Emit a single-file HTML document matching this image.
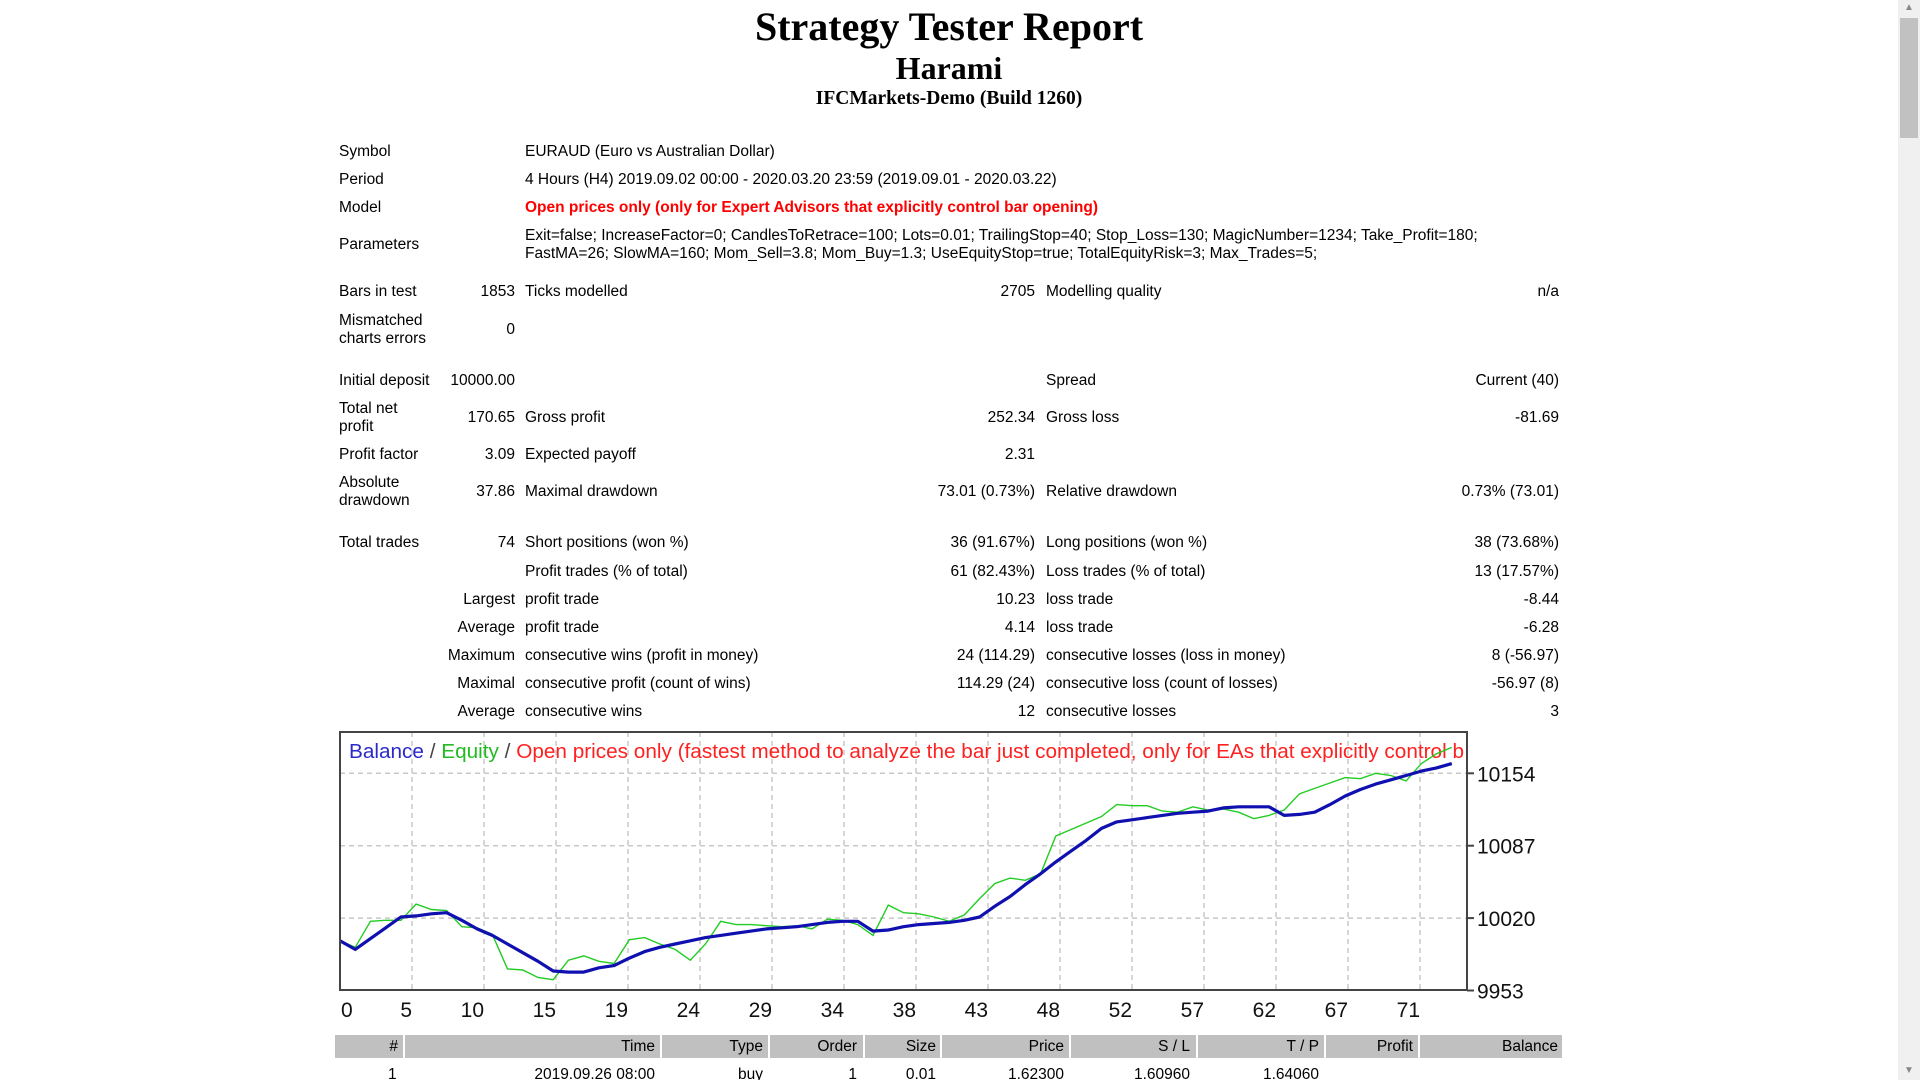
<!DOCTYPE html>
<html><head><meta charset="utf-8">
<style>
html,body{margin:0;padding:0;background:#fff;width:1920px;height:1080px;overflow:hidden;}
body{position:relative;font-family:"Liberation Sans","DejaVu Sans",sans-serif;font-size:15.5px;color:#000;}
.t{position:absolute;white-space:nowrap;line-height:18px;margin-top:1px;}
.r{text-align:right;}
.h1{position:absolute;left:0;width:1898px;text-align:center;font-family:"Liberation Serif",serif;font-weight:bold;white-space:nowrap;}
.hdr{position:absolute;top:1035px;height:23px;background:#c0c0c0;}
.hc{position:absolute;top:1037px;line-height:20px;white-space:nowrap;text-align:right;}
</style></head><body>
<div class="h1" style="top:4px;font-size:40px;line-height:46px;">Strategy Tester Report</div>
<div class="h1" style="top:49px;font-size:32px;line-height:38px;">Harami</div>
<div class="h1" style="top:87px;font-size:19.5px;line-height:24px;">IFCMarkets-Demo (Build 1260)</div>

<div class="t" style="left:339px;top:142px">Symbol</div>
<div class="t" style="left:525px;top:142px">EURAUD (Euro vs Australian Dollar)</div>
<div class="t" style="left:339px;top:170px">Period</div>
<div class="t" style="left:525px;top:170px">4 Hours (H4) 2019.09.02 00:00 - 2020.03.20 23:59 (2019.09.01 - 2020.03.22)</div>
<div class="t" style="left:339px;top:198px">Model</div>
<div class="t" style="left:525px;top:198px;color:#ff0000;font-weight:bold">Open prices only (only for Expert Advisors that explicitly control bar opening)</div>
<div class="t" style="left:339px;top:235px">Parameters</div>
<div class="t" style="left:525px;top:226px">Exit=false; IncreaseFactor=0; CandlesToRetrace=100; Lots=0.01; TrailingStop=40; Stop_Loss=130; MagicNumber=1234; Take_Profit=180;<br>FastMA=26; SlowMA=160; Mom_Sell=3.8; Mom_Buy=1.3; UseEquityStop=true; TotalEquityRisk=3; Max_Trades=5;</div>

<div class="t" style="left:339px;top:282px">Bars in test</div>
<div class="t r" style="right:1405px;top:282px">1853</div>
<div class="t" style="left:525px;top:282px">Ticks modelled</div>
<div class="t r" style="right:885px;top:282px">2705</div>
<div class="t" style="left:1046px;top:282px">Modelling quality</div>
<div class="t r" style="right:361px;top:282px">n/a</div>

<div class="t" style="left:339px;top:311px">Mismatched<br>charts errors</div>
<div class="t r" style="right:1405px;top:320px">0</div>

<div class="t" style="left:339px;top:371px">Initial deposit</div>
<div class="t r" style="right:1405px;top:371px">10000.00</div>
<div class="t" style="left:1046px;top:371px">Spread</div>
<div class="t r" style="right:361px;top:371px">Current (40)</div>

<div class="t" style="left:339px;top:399px">Total net<br>profit</div>
<div class="t r" style="right:1405px;top:408px">170.65</div>
<div class="t" style="left:525px;top:408px">Gross profit</div>
<div class="t r" style="right:885px;top:408px">252.34</div>
<div class="t" style="left:1046px;top:408px">Gross loss</div>
<div class="t r" style="right:361px;top:408px">-81.69</div>

<div class="t" style="left:339px;top:445px">Profit factor</div>
<div class="t r" style="right:1405px;top:445px">3.09</div>
<div class="t" style="left:525px;top:445px">Expected payoff</div>
<div class="t r" style="right:885px;top:445px">2.31</div>

<div class="t" style="left:339px;top:473px">Absolute<br>drawdown</div>
<div class="t r" style="right:1405px;top:482px">37.86</div>
<div class="t" style="left:525px;top:482px">Maximal drawdown</div>
<div class="t r" style="right:885px;top:482px">73.01 (0.73%)</div>
<div class="t" style="left:1046px;top:482px">Relative drawdown</div>
<div class="t r" style="right:361px;top:482px">0.73% (73.01)</div>

<div class="t" style="left:339px;top:533px">Total trades</div>
<div class="t r" style="right:1405px;top:533px">74</div>
<div class="t" style="left:525px;top:533px">Short positions (won %)</div>
<div class="t r" style="right:885px;top:533px">36 (91.67%)</div>
<div class="t" style="left:1046px;top:533px">Long positions (won %)</div>
<div class="t r" style="right:361px;top:533px">38 (73.68%)</div>

<div class="t" style="left:525px;top:562px">Profit trades (% of total)</div>
<div class="t r" style="right:885px;top:562px">61 (82.43%)</div>
<div class="t" style="left:1046px;top:562px">Loss trades (% of total)</div>
<div class="t r" style="right:361px;top:562px">13 (17.57%)</div>

<div class="t r" style="right:1405px;top:590px">Largest</div>
<div class="t" style="left:525px;top:590px">profit trade</div>
<div class="t r" style="right:885px;top:590px">10.23</div>
<div class="t" style="left:1046px;top:590px">loss trade</div>
<div class="t r" style="right:361px;top:590px">-8.44</div>

<div class="t r" style="right:1405px;top:618px">Average</div>
<div class="t" style="left:525px;top:618px">profit trade</div>
<div class="t r" style="right:885px;top:618px">4.14</div>
<div class="t" style="left:1046px;top:618px">loss trade</div>
<div class="t r" style="right:361px;top:618px">-6.28</div>

<div class="t r" style="right:1405px;top:646px">Maximum</div>
<div class="t" style="left:525px;top:646px">consecutive wins (profit in money)</div>
<div class="t r" style="right:885px;top:646px">24 (114.29)</div>
<div class="t" style="left:1046px;top:646px">consecutive losses (loss in money)</div>
<div class="t r" style="right:361px;top:646px">8 (-56.97)</div>

<div class="t r" style="right:1405px;top:674px">Maximal</div>
<div class="t" style="left:525px;top:674px">consecutive profit (count of wins)</div>
<div class="t r" style="right:885px;top:674px">114.29 (24)</div>
<div class="t" style="left:1046px;top:674px">consecutive loss (count of losses)</div>
<div class="t r" style="right:361px;top:674px">-56.97 (8)</div>

<div class="t r" style="right:1405px;top:702px">Average</div>
<div class="t" style="left:525px;top:702px">consecutive wins</div>
<div class="t r" style="right:885px;top:702px">12</div>
<div class="t" style="left:1046px;top:702px">consecutive losses</div>
<div class="t r" style="right:361px;top:702px">3</div>

<svg id="chart" style="position:absolute;left:0;top:0" width="1920" height="1080" xmlns="http://www.w3.org/2000/svg">
<defs><clipPath id="clip"><rect x="340" y="732" width="1127" height="258"/></clipPath></defs>
<g id="grid"></g>
<g clip-path="url(#clip)">
<text x="349" y="758" font-size="20" font-family="Liberation Sans, DejaVu Sans, sans-serif" textLength="1115" lengthAdjust="spacingAndGlyphs"><tspan fill="#2a2acc">Balance</tspan><tspan fill="#444"> / </tspan><tspan fill="#22bb22">Equity</tspan><tspan fill="#444"> / </tspan><tspan fill="#ff2020">Open prices only (fastest method to analyze the bar just completed, only for EAs that explicitly control b</tspan></text>
<g id="series"></g>
</g>
<rect x="340" y="732" width="1127" height="258" fill="none" stroke="#444" stroke-width="2"/>
<g id="labels"></g>
</svg>

<div class="hdr" style="left:335px;width:1227px"></div>
<div id="hseps"></div>
<div class="hc" style="right:1522px">#</div>
<div class="hc" style="right:1265px">Time</div>
<div class="hc" style="right:1157px">Type</div>
<div class="hc" style="right:1063px">Order</div>
<div class="hc" style="right:984px">Size</div>
<div class="hc" style="right:856px">Price</div>
<div class="hc" style="right:730px">S / L</div>
<div class="hc" style="right:601px">T / P</div>
<div class="hc" style="right:507px">Profit</div>
<div class="hc" style="right:362px">Balance</div>
<div class="t" style="left:388px;top:1065px">1</div>
<div class="t r" style="right:1265px;top:1065px">2019.09.26 08:00</div>
<div class="t r" style="right:1157px;top:1065px">buy</div>
<div class="t r" style="right:1063px;top:1065px">1</div>
<div class="t r" style="right:984px;top:1065px">0.01</div>
<div class="t r" style="right:856px;top:1065px">1.62300</div>
<div class="t r" style="right:730px;top:1065px">1.60960</div>
<div class="t r" style="right:601px;top:1065px">1.64060</div>

<div style="position:absolute;left:1898px;top:0;width:22px;height:1080px;background:#f0f0f0"></div>
<div style="position:absolute;left:1900px;top:18px;width:18px;height:120px;background:#c1c1c1"></div>
<div style="position:absolute;left:1902px;top:0;width:14px;height:16px;font-size:10px;color:#888;text-align:center;line-height:16px">&#9650;</div>
<div style="position:absolute;left:1902px;top:1063px;width:14px;height:16px;font-size:10px;color:#888;text-align:center;line-height:16px">&#9660;</div>

<script>
const balance = [9999,9991,10001,10011,10021,10022,10024,10025,10018,10010,10004,9996,9988,9980,9971,9970,9970,9974,9976,9983,9989,9993,9996,9999,10002,10004,10006,10008,10010,10011,10012,10014,10016,10017,10017,10008,10009,10012,10014,10015,10016,10018,10021,10031,10040,10051,10061,10072,10082,10092,10103,10109,10111,10113,10115,10117,10118,10119,10122,10123,10123,10123,10115,10116,10118,10125,10133,10139,10144,10148,10152,10156,10159,10163];
const equity = [9999,9993,10017,10018,10018,10033,10028,10027,10012,10011,10005,9973,9972,9965,9963,9981,9985,9980,9978,10000,10002,9996,9991,9981,9996,10017,10014,10014,10013,10012,10013,10010,10019,10018,10014,10004,10032,10025,10024,10021,10017,10023,10038,10052,10057,10055,10061,10096,10102,10108,10114,10125,10124,10124,10119,10118,10123,10120,10121,10118,10112,10115,10120,10135,10140,10145,10150,10149,10154,10152,10147,10163,10172,10178];
const yTicks = [10154,10087,10020,9953];
const xTickLabels = ["0","5","10","15","19","24","29","34","38","43","48","52","57","62","67","71"];

const NS = "http://www.w3.org/2000/svg";
const X0 = 340, XW = 1127, NT = 74, Y0 = 773.3, PPU = 72.4/67;
function xScale(i){ return X0 + i*XW/NT; }
function yScale(v){ return Y0 + (10154 - v)*PPU; }
const grid = document.getElementById('grid');
const labels = document.getElementById('labels');
const series = document.getElementById('series');
function mk(tag, attrs, parent){ const e=document.createElementNS(NS,tag); for(const k in attrs) e.setAttribute(k,attrs[k]); parent.appendChild(e); return e; }

yTicks.forEach(v=>{
  const y = yScale(v);
  if (v !== yTicks[yTicks.length-1]) {
    const l = mk('line',{x1:X0,x2:X0+XW,y1:y,y2:y,stroke:'#c8c8c8','stroke-width':1.5,'stroke-dasharray':'5,4'},grid);
    
    
  }
  const tk = mk('line',{x1:X0+XW,x2:X0+XW+7,y1:y,y2:y,stroke:'#444','stroke-width':2},labels);
  
  
  const t = mk('text',{x:X0+XW+10,y:y+8,'font-size':21,'font-family':'Liberation Sans, DejaVu Sans, sans-serif',fill:'#111'},labels);
  t.textContent = v;
  
  
});
xTickLabels.forEach((s,k)=>{
  const x = X0 + k*72;
  if (k>0) {
    const l = mk('line',{x1:x,x2:x,y1:732,y2:990,stroke:'#c8c8c8','stroke-width':1.5,'stroke-dasharray':'5,4'},grid);
    
    
  }
  const t = mk('text',{x:k===0?x+1:x,y:1017,'font-size':21,'text-anchor':k===0?'start':'end','font-family':'Liberation Sans, DejaVu Sans, sans-serif',fill:'#111'},labels);
  t.textContent = s;
  
  
});
function pts(arr){ return arr.map((v,i)=>xScale(i).toFixed(1)+','+yScale(v).toFixed(1)).join(' '); }
const eq = mk('polyline',{points:pts(equity),fill:'none',stroke:'#22cc22','stroke-width':1.4},series);


const bl = mk('polyline',{points:pts(balance),fill:'none',stroke:'#1010b0','stroke-width':3.2,'stroke-linejoin':'round'},series);



const seps = [403,660,768,863,940,1069,1196,1324,1418];
const hs = document.getElementById('hseps');
seps.forEach(x=>{
  const d = document.createElement('div');
  d.style.cssText = 'position:absolute;top:1035px;height:23px;width:2px;background:#fff;left:'+x+'px';
  
  
  hs.appendChild(d);
});
</script>
</body></html>
